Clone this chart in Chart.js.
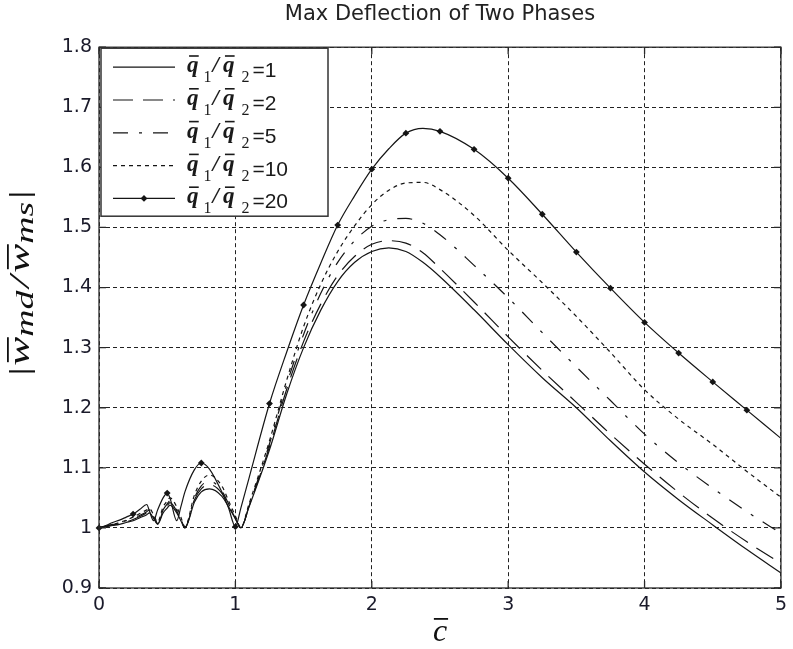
<!DOCTYPE html>
<html><head><meta charset="utf-8">
<script src="https://cdn.jsdelivr.net/npm/chart.js@4/dist/chart.umd.min.js"></script>
<style>html,body{margin:0;padding:0;background:#fff}#wrap{width:793px;height:649px;position:relative}</style>
</head><body><div id="wrap"><canvas id="c" width="793" height="649"></canvas></div>
<script>
// ---- data ----
const cBar = [0,0.05,0.1,0.15,0.2,0.25,0.3,0.35,0.37,0.4,0.43,0.47,0.5,0.52,0.57,0.6,0.63,0.7,0.75,0.81,0.9,0.95,1.0,1.04,1.1,1.25,1.375,1.5,1.625,1.75,1.875,2.0,2.125,2.25,2.375,2.5,2.75,3.0,3.25,3.5,3.75,4.0,4.25,4.5,4.75,5.0];
const ratio1 = [1.000,1.002,1.004,1.006,1.009,1.012,1.017,1.022,1.025,1.016,1.006,1.025,1.033,1.038,1.025,1.012,1.000,1.043,1.060,1.065,1.053,1.035,1.015,1.000,1.035,1.130,1.222,1.300,1.362,1.410,1.442,1.460,1.466,1.460,1.442,1.418,1.363,1.305,1.250,1.200,1.145,1.093,1.047,1.005,0.964,0.925];
const ratio2 = [1.000,1.002,1.005,1.007,1.010,1.014,1.019,1.025,1.028,1.018,1.007,1.028,1.037,1.042,1.028,1.013,1.000,1.047,1.065,1.072,1.058,1.038,1.016,1.000,1.036,1.135,1.230,1.310,1.372,1.420,1.452,1.472,1.478,1.474,1.458,1.432,1.376,1.318,1.262,1.209,1.156,1.106,1.059,1.016,0.977,0.941];
const ratio5 = [1.000,1.003,1.006,1.008,1.012,1.016,1.021,1.027,1.030,1.020,1.008,1.030,1.040,1.045,1.030,1.015,1.001,1.050,1.070,1.078,1.062,1.040,1.017,1.000,1.037,1.140,1.238,1.322,1.390,1.442,1.478,1.502,1.513,1.515,1.507,1.488,1.437,1.383,1.325,1.268,1.212,1.156,1.108,1.066,1.027,0.991];
const ratio10 = [1.000,1.003,1.006,1.009,1.013,1.018,1.024,1.030,1.032,1.022,1.010,1.035,1.045,1.050,1.035,1.018,1.002,1.055,1.078,1.088,1.070,1.045,1.020,1.001,1.040,1.145,1.245,1.335,1.405,1.460,1.503,1.538,1.562,1.574,1.575,1.563,1.520,1.462,1.408,1.352,1.292,1.230,1.181,1.139,1.094,1.051];
const ratio20 = [1.000,1.004,1.009,1.013,1.018,1.023,1.031,1.039,1.028,1.012,1.030,1.050,1.058,1.050,1.012,1.035,1.060,1.097,1.108,1.098,1.060,1.033,1.002,1.033,1.083,1.207,1.292,1.371,1.440,1.504,1.553,1.597,1.631,1.657,1.665,1.660,1.630,1.582,1.522,1.459,1.399,1.342,1.291,1.243,1.196,1.149];
const ratioLabels = ['1','2','5','10','20'];
const xTicks = [0,1,2,3,4,5];
const yTicks = [0.9,1.0,1.1,1.2,1.3,1.4,1.5,1.6,1.7,1.8];
const titleText = 'Max Deflection of Two Phases';

// ---- styles ----
const INK = '#151515';
const seriesStyles = [
  {dash: []},
  {dash: [20,10]},
  {dash: [15,11,3,11]},
  {dash: [4,4]},
  {dash: [], marker: true}
];
const allRatios = [ratio1, ratio2, ratio5, ratio10, ratio20];

const datasets = allRatios.map((arr, i) => ({
  label: ratioLabels[i],
  data: cBar.map((x, k) => ({x: x, y: arr[k]})),
  borderColor: INK,
  backgroundColor: INK,
  borderWidth: 1.2,
  borderDash: seriesStyles[i].dash,
  cubicInterpolationMode: 'monotone',
  clip: false,
  pointStyle: 'rectRot',
  pointBackgroundColor: INK,
  pointBorderColor: INK,
  pointBorderWidth: 0,
  pointHoverRadius: 0,
  pointRadius: seriesStyles[i].marker
    ? (c) => { const x = c.raw ? c.raw.x : 0; return (Math.abs(x*4 - Math.round(x*4)) < 1e-6 && x < 4.99) ? 3.4 : 0; }
    : 0
}));

function piecesWidth(ctx, pieces){
  let w = 0;
  pieces.forEach(p => { ctx.font = p.font; w += ctx.measureText(p.t).width + (p.gap || 0); });
  return w;
}
function drawPieces(ctx, pieces, x, y){
  let cx = x;
  pieces.forEach(p => {
    ctx.font = p.font;
    const w = ctx.measureText(p.t).width;
    ctx.fillText(p.t, cx, y + (p.dy || 0));
    if (p.bar) ctx.fillRect(cx + w * p.bar.x0, y + p.bar.y, w * (p.bar.x1 - p.bar.x0), p.bar.h || 1.6);
    cx += w + (p.gap || 0);
  });
  return cx;
}

const QF = 'italic bold 23px "Liberation Serif"';
const SF = '16px "Liberation Serif"';
const matlabDecor = {
  id: 'matlabDecor',
  afterDatasetsDraw(chart){
    const ctx = chart.ctx;
    const a = chart.chartArea;
    const xs = chart.scales.x, ys = chart.scales.y;
    ctx.save();
    // box + inward ticks
    ctx.strokeStyle = '#2a2a2a';
    ctx.lineWidth = 1.3;
    ctx.setLineDash([]);
    ctx.strokeRect(a.left, a.top, a.right - a.left, a.bottom - a.top);
    ctx.beginPath();
    xTicks.forEach(v => {
      const px = xs.getPixelForValue(v);
      ctx.moveTo(px, a.bottom); ctx.lineTo(px, a.bottom - 7);
      ctx.moveTo(px, a.top); ctx.lineTo(px, a.top + 7);
    });
    yTicks.forEach(v => {
      const py = ys.getPixelForValue(v);
      ctx.moveTo(a.left, py); ctx.lineTo(a.left + 7, py);
      ctx.moveTo(a.right, py); ctx.lineTo(a.right - 7, py);
    });
    ctx.stroke();

    // legend
    const bx = a.left + 2, by = a.top + 1, bw = 227, bh = 168;
    ctx.fillStyle = '#fff';
    ctx.fillRect(bx, by, bw, bh);
    ctx.strokeStyle = '#333';
    ctx.lineWidth = 1.5;
    ctx.strokeRect(bx, by, bw, bh);
    chart.data.datasets.forEach((ds, i) => {
      const cy = by + 19 + i * 32.8;
      ctx.strokeStyle = ds.borderColor;
      ctx.lineWidth = ds.borderWidth;
      ctx.setLineDash(ds.borderDash || []);
      ctx.beginPath(); ctx.moveTo(bx + 12, cy); ctx.lineTo(bx + 74, cy); ctx.stroke();
      ctx.setLineDash([]);
      if (seriesStyles[i].marker) {
        ctx.fillStyle = INK;
        ctx.beginPath();
        const mx = bx + 43, r = 3.4;
        ctx.moveTo(mx, cy - r); ctx.lineTo(mx + r, cy); ctx.lineTo(mx, cy + r); ctx.lineTo(mx - r, cy); ctx.closePath();
        ctx.fill();
      }
      ctx.fillStyle = '#1a1a1a';
      ctx.textBaseline = 'alphabetic';
      ctx.textAlign = 'left';
      const bar = {x0: 0.18, x1: 1.02, y: -17, h: 1.6};
      drawPieces(ctx, [
        {t: 'q', font: QF, bar: bar, gap: 5},
        {t: '1', font: SF, dy: 10, gap: 1},
        {t: '/', font: QF, gap: 4},
        {t: 'q', font: QF, bar: bar, gap: 7},
        {t: '2', font: SF, dy: 10, gap: 3},
        {t: '=' + ds.label, font: '21px "Liberation Sans"', dy: 5}
      ], bx + 86, cy + 5);
    });

    // x axis title  c-bar
    ctx.fillStyle = '#111';
    ctx.font = 'italic 32px "Liberation Serif"';
    const cx = (a.left + a.right) / 2;
    const cw = ctx.measureText('c').width;
    ctx.textAlign = 'left';
    ctx.fillText('c', cx - cw / 2, 641);
    ctx.fillRect(cx - cw / 2 + 1, 618, cw, 1.8);

    // y axis title |w_md / w_ms|
    const WF = 'italic 30px "Liberation Serif"';
    const MF = 'italic 26px "Liberation Serif"';
    const NF = '30px "Liberation Serif"';
    const wbar = {x0: 0.12, x1: 0.98, y: -22, h: 1.8};
    const yPieces = [
      {t: '|', font: NF, gap: 1},
      {t: 'w', font: WF, bar: wbar, gap: 0},
      {t: 'md', font: MF, dy: 4, gap: 2},
      {t: '/', font: WF, gap: 2},
      {t: 'w', font: WF, bar: wbar, gap: 0},
      {t: 'ms', font: MF, dy: 4, gap: 2},
      {t: '|', font: NF}
    ];
    const tw = piecesWidth(ctx, yPieces);
    ctx.translate(29, 283);
    ctx.rotate(-Math.PI / 2);
    ctx.scale(1.45, 1);
    drawPieces(ctx, yPieces, -tw / 2, 0);
    ctx.restore();
  }
};

new Chart(document.getElementById('c'), {
  type: 'line',
  data: {datasets: datasets},
  options: {
    responsive: false,
    devicePixelRatio: 1,
    animation: false,
    events: [],
    layout: {padding: {left: 0, right: 8, top: 0, bottom: 0}},
    plugins: {
      legend: {display: false},
      tooltip: {enabled: false},
      title: {
        display: true,
        fullSize: false,
        text: titleText,
        color: '#222',
        font: {family: '"DejaVu Sans"', size: 21, weight: 'normal'},
        padding: {top: 2, bottom: 20}
      }
    },
    scales: {
      x: {
        type: 'linear', min: 0, max: 5,
        afterBuildTicks: s => { s.ticks = xTicks.map(v => ({value: v})); },
        afterFit: s => { s.height = 61; },
        ticks: {color: '#1a1a2a', font: {family: '"DejaVu Sans"', size: 19}, padding: 6, maxRotation: 0,
                callback: v => String(v)},
        grid: {color: '#222', lineWidth: 1, drawTicks: false},
        border: {display: false, dash: [4, 3]}
      },
      y: {
        type: 'linear', min: 0.9, max: 1.8,
        afterBuildTicks: s => { s.ticks = yTicks.map(v => ({value: v})); },
        afterFit: s => { s.width = 99; },
        ticks: {color: '#1a1a2a', font: {family: '"DejaVu Sans"', size: 19}, padding: 7,
                callback: v => String(Number(v.toFixed(1)))},
        grid: {color: '#222', lineWidth: 1, drawTicks: false},
        border: {display: false, dash: [4, 3]}
      }
    }
  },
  plugins: [matlabDecor]
});
</script>
</body></html>
